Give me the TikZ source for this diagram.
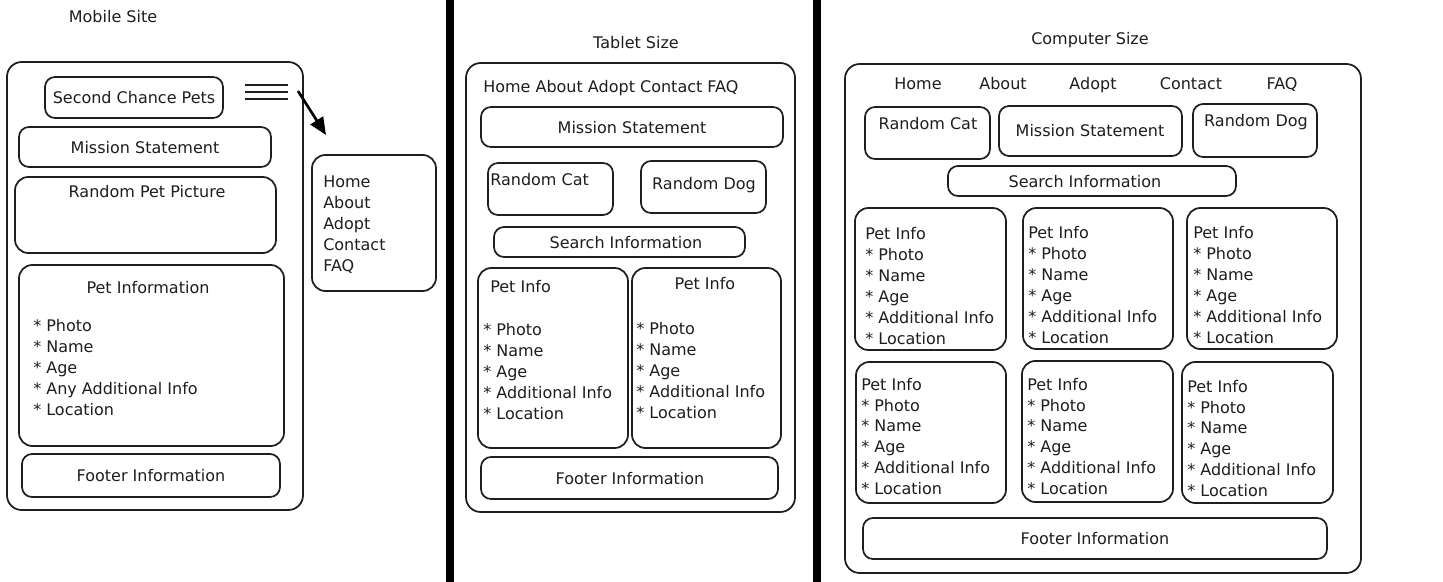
\documentclass[tikz,border=0pt]{standalone}
\usepackage{fontspec}
\setmainfont{DejaVu Sans}
\usetikzlibrary{arrows.meta}
\definecolor{ink}{HTML}{1E1E1E}
% box helper: [style]{name}{x1}{y1}{x2}{y2}
\newcommand\wbox[6][box]{%
  \node[#1,minimum width={(#5-#3)*0.75pt},minimum height={(#6-#4)*0.75pt}] (#2) at ({(#3+#5)/2},{(#4+#6)/2}) {};}
% list helper: {name}{x}{y0}{step}{items}
\newcommand\plist[5]{%
  \foreach \itm [count=\i from 0] in {#5} {\node[txt,anchor=mid west] (#1-\i) at (#2,{#3+\i*#4}) {\itm};}}
\begin{document}
\begin{tikzpicture}[x=0.75pt,y=-0.75pt,
  box/.style={draw=ink,line width=1.3pt,rounded corners=7.5pt,inner sep=0pt,outer sep=0pt},
  frame/.style={box,rounded corners=11pt},
  card/.style={box,rounded corners=10pt},
  txt/.style={font=\fontsize{12}{14}\selectfont,text=ink,inner sep=0pt,yshift=-2.2pt}]
\useasboundingbox[fill=white] (0,0) rectangle (1443,582);
% separators
\fill[black] (446,0) rectangle (454,582);
\fill[black] (813,0) rectangle (821,582);

% ---------------- Mobile ----------------
\node[txt] (tmobile) at (113,14) {Mobile Site};
\wbox[frame]{mframe}{7}{62}{303}{510}
\wbox{mname}{45}{77}{223}{118}
\node[txt,anchor=mid] (mnamet) at (134,97) {Second Chance Pets};
\draw[ink,line width=1.6pt] (245,85) -- (288,85) (245,92) -- (288,92) (245,99) -- (288,99);
\coordinate (hamb) at (298,91);
\coordinate (arrowtip) at (326,135);
\draw[black,line width=2pt,-{Triangle[length=13pt,width=11pt]}] (hamb) -- (arrowtip);
\wbox{mmission}{19}{127}{271}{167}
\node[txt,anchor=mid] (mmissiont) at (145,147) {Mission Statement};
\wbox[card]{mpic}{15}{177}{276}{253}
\node[txt,anchor=mid] (mpict) at (147,191) {Random Pet Picture};
\wbox[card]{mpet}{19}{265}{284}{446}
\node[txt,anchor=mid] (mpett) at (148,287) {Pet Information};
\plist{mpl}{33}{325}{21}{* Photo,* Name,* Age,* Any Additional Info,* Location}
\wbox{mfooter}{22}{454}{280}{497}
\node[txt,anchor=mid] (mfootert) at (151,475) {Footer Information};
\wbox[card]{mmenu}{312}{155}{436}{291}
\plist{mmn}{323}{181}{21}{Home,About,Adopt,Contact,FAQ}

% ---------------- Tablet ----------------
\node[txt] (ttablet) at (636,40) {Tablet Size};
\wbox[frame]{tframe}{466}{63}{795}{512}
\node[txt,anchor=mid west] (tnav) at (483,86) {Home About Adopt Contact FAQ};
\wbox{tmission}{481}{107}{783}{147}
\node[txt,anchor=mid] (tmissiont) at (632,127) {Mission Statement};
\wbox{tcat}{488}{163}{613}{215}
\node[txt,anchor=mid west] (tcatt) at (490,179) {Random Cat};
\wbox{tdog}{641}{161}{766}{213}
\node[txt,anchor=mid] (tdogt) at (704,183) {Random Dog};
\wbox{tsearch}{494}{227}{745}{257}
\node[txt,anchor=mid] (tsearcht) at (626,242) {Search Information};
\wbox[card]{tpet1}{478}{268}{628}{448}
\node[txt,anchor=mid west] (tpet1t) at (490,286) {Pet Info};
\plist{tpa}{483}{329}{21}{* Photo,* Name,* Age,* Additional Info,* Location}
\wbox[card]{tpet2}{632}{268}{781}{448}
\node[txt,anchor=mid] (tpet2t) at (705,283) {Pet Info};
\plist{tpb}{636}{328}{21}{* Photo,* Name,* Age,* Additional Info,* Location}
\wbox{tfooter}{481}{457}{778}{499}
\node[txt,anchor=mid] (tfootert) at (630,478) {Footer Information};

% ---------------- Computer ----------------
\node[txt] (tcomp) at (1090,37) {Computer Size};
\wbox[frame]{cframe}{845}{64}{1361}{573}
\node[txt,anchor=mid] (cnav1) at (918,83) {Home};
\node[txt,anchor=mid] (cnav2) at (1003,83) {About};
\node[txt,anchor=mid] (cnav3) at (1093,83) {Adopt};
\node[txt,anchor=mid] (cnav4) at (1191,83) {Contact};
\node[txt,anchor=mid] (cnav5) at (1282,83) {FAQ};
\wbox{ccat}{865}{107}{990}{159}
\node[txt,anchor=mid] (ccatt) at (928,123) {Random Cat};
\wbox{cmission}{999}{106}{1182}{156}
\node[txt,anchor=mid] (cmissiont) at (1090,130) {Mission Statement};
\wbox{cdog}{1193}{104}{1317}{157}
\node[txt,anchor=mid] (cdogt) at (1256,120) {Random Dog};
\wbox{csearch}{948}{166}{1236}{196}
\node[txt,anchor=mid] (csearcht) at (1085,181) {Search Information};
\wbox[card]{cp1}{855}{208}{1006}{350}
\plist{cpa}{865}{233}{21}{Pet Info,* Photo,* Name,* Age,* Additional Info,* Location}
\wbox[card]{cp2}{1023}{208}{1173}{349}
\plist{cpb}{1028}{232}{21}{Pet Info,* Photo,* Name,* Age,* Additional Info,* Location}
\wbox[card]{cp3}{1187}{208}{1337}{349}
\plist{cpc}{1193}{232}{21}{Pet Info,* Photo,* Name,* Age,* Additional Info,* Location}
\wbox[card]{cp4}{856}{362}{1006}{503}
\plist{cpd}{861}{384}{20.7}{Pet Info,* Photo,* Name,* Age,* Additional Info,* Location}
\wbox[card]{cp5}{1022}{361}{1173}{502}
\plist{cpe}{1027}{384}{20.7}{Pet Info,* Photo,* Name,* Age,* Additional Info,* Location}
\wbox[card]{cp6}{1182}{362}{1333}{503}
\plist{cpf}{1187}{386}{20.7}{Pet Info,* Photo,* Name,* Age,* Additional Info,* Location}
\wbox{cfooter}{863}{518}{1327}{559}
\node[txt,anchor=mid] (cfootert) at (1095,538) {Footer Information};
\end{tikzpicture}
\end{document}
